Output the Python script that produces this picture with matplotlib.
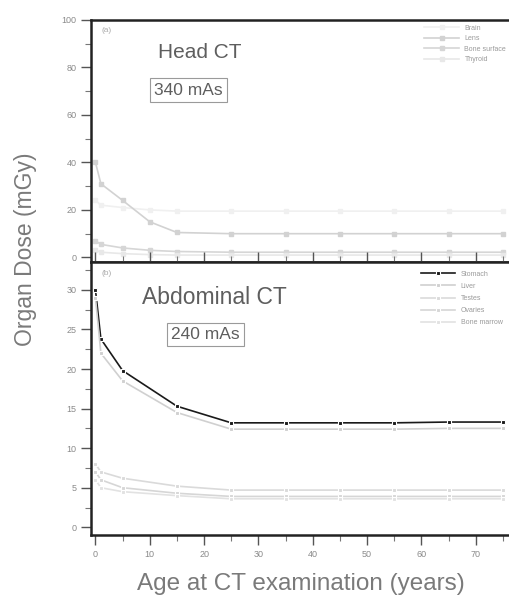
import numpy as np
import matplotlib
matplotlib.use('Agg')
import matplotlib.pyplot as plt
from matplotlib.ticker import MultipleLocator

plt.rcParams['font.family'] = ['Liberation Sans', 'DejaVu Sans']

# Head CT (340 mAs) organ doses, mGy
head_age = [0, 1, 5, 10, 15, 25, 35, 45, 55, 65, 75]
head_labels = ['Brain', 'Lens', 'Bone surface', 'Thyroid']
head_brain = [24, 22, 21, 20, 19.5, 19.5, 19.5, 19.5, 19.5, 19.5, 19.5]
head_lens = [40, 31, 24, 15, 10.5, 10, 10, 10, 10, 10, 10]
head_bone = [7, 5.5, 4, 3, 2.5, 2.2, 2.2, 2.2, 2.2, 2.2, 2.2]
head_thyroid = [3, 2.2, 1.6, 1.2, 1, 1, 1, 1, 1, 1, 1]

# Abdominal CT (240 mAs) organ doses, mGy
abd_age = [0, 1, 5, 15, 25, 35, 45, 55, 65, 75]
abd_labels = ['Stomach', 'Liver', 'Testes', 'Ovaries', 'Bone marrow']
abd_stomach = [30, 23.8, 19.8, 15.3, 13.2, 13.2, 13.2, 13.2, 13.3, 13.3]
abd_liver = [29, 22, 18.5, 14.5, 12.4, 12.4, 12.4, 12.4, 12.5, 12.5]
abd_testes = [8, 7, 6.2, 5.2, 4.7, 4.7, 4.7, 4.7, 4.7, 4.7]
abd_ovaries = [7, 6, 5, 4.3, 3.9, 3.9, 3.9, 3.9, 3.9, 3.9]
abd_marrow = [6, 5, 4.5, 4, 3.6, 3.6, 3.6, 3.6, 3.6, 3.6]

grey_txt = '#8a8a8a'

fig = plt.figure(figsize=(5.09, 6.0), dpi=100)
ax1 = fig.add_axes([0.179, 0.563, 0.825, 0.404])
ax2 = fig.add_axes([0.179, 0.108, 0.825, 0.455], sharex=ax1)

# --- panel (a)
head_series = [head_brain, head_lens, head_bone, head_thyroid]
head_cols = ['#f0f0f0', '#d2d2d2', '#d6d6d6', '#e8e8e8']
for vals, lab, c in zip(head_series, head_labels, head_cols):
    ax1.plot(head_age, vals, '-', color=c, lw=1.2, marker='s', ms=3.5,
             mfc=c, mec=c, label=lab)
ax1.set_ylim(-2, 100)
ax1.yaxis.set_major_locator(MultipleLocator(20))
ax1.yaxis.set_minor_locator(MultipleLocator(10))
ax1.tick_params(axis='x', labelbottom=False, bottom=False)
ax1.text(0.025, 0.97, '(a)', transform=ax1.transAxes, fontsize=6,
         color='#aaaaaa', va='top')
ax1.text(0.16, 0.865, 'Head CT', transform=ax1.transAxes, fontsize=15,
         color='#5e5e5e', va='center')
ax1.text(0.15, 0.71, '340 mAs', transform=ax1.transAxes, fontsize=12.5,
         color='#5e5e5e', va='center',
         bbox=dict(boxstyle='square,pad=0.25', fc='white', ec='#9a9a9a', lw=0.8))
leg1 = ax1.legend(loc='upper right', fontsize=5, frameon=False,
                  handlelength=5, labelspacing=0.5, borderaxespad=0.3)
for t in leg1.get_texts():
    t.set_color('#9a9a9a')

# --- panel (b)
abd_series = [abd_stomach, abd_liver, abd_testes, abd_ovaries, abd_marrow]
abd_cols = ['#1a1a1a', '#d0d0d0', '#dadada', '#d6d6d6', '#e2e2e2']
for vals, lab, c in zip(abd_series, abd_labels, abd_cols):
    ax2.plot(abd_age, vals, '-', color=c, lw=1.2, marker='s', ms=3.5,
             mfc=c, mec='white', mew=0.8, label=lab)
ax2.set_ylim(-1, 33.5)
ax2.yaxis.set_major_locator(MultipleLocator(5))
ax2.yaxis.set_minor_locator(MultipleLocator(2.5))
ax2.set_xlim(-0.8, 76.5)
ax2.xaxis.set_major_locator(MultipleLocator(10))
ax2.xaxis.set_minor_locator(MultipleLocator(5))
ax2.tick_params(axis='x', which='both', top=True, direction='out')
ax2.text(0.025, 0.97, '(b)', transform=ax2.transAxes, fontsize=6,
         color='#aaaaaa', va='top')
ax2.text(0.12, 0.87, 'Abdominal CT', transform=ax2.transAxes, fontsize=16.5,
         color='#5e5e5e', va='center')
ax2.text(0.19, 0.735, '240 mAs', transform=ax2.transAxes, fontsize=12.5,
         color='#5e5e5e', va='center',
         bbox=dict(boxstyle='square,pad=0.25', fc='white', ec='#9a9a9a', lw=0.8))
leg2 = ax2.legend(loc='upper right', fontsize=5, frameon=False,
                  handlelength=5, labelspacing=0.75, borderaxespad=0.8)
for t in leg2.get_texts():
    t.set_color('#9a9a9a')

for ax in (ax1, ax2):
    for s in ax.spines.values():
        s.set_linewidth(1.8)
        s.set_color('#222222')
    ax.tick_params(axis='both', which='major', length=7, width=1,
                   labelsize=6.5, labelcolor=grey_txt, color='#555555')
    ax.tick_params(axis='both', which='minor', length=4, width=0.8,
                   color='#777777')

fig.text(0.05, 0.585, 'Organ Dose (mGy)', rotation=90, fontsize=16.5,
         color='#7a7a7a', ha='center', va='center')
ax2.set_xlabel('Age at CT examination (years)', fontsize=17.5,
               color='#7a7a7a', labelpad=10)

fig.savefig('out.png', dpi=100)
